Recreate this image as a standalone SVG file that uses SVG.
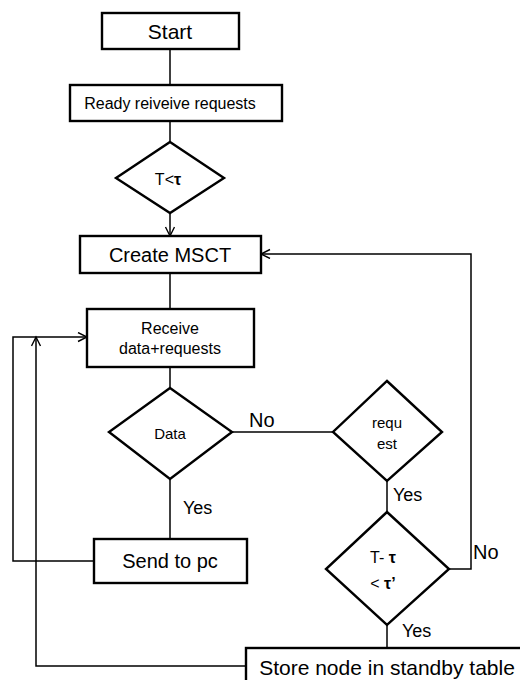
<svg xmlns="http://www.w3.org/2000/svg" width="520" height="680" viewBox="0 0 520 680">
<defs>
<marker id="arr" markerUnits="userSpaceOnUse" markerWidth="12" markerHeight="12" refX="10" refY="5" orient="auto">
<path d="M1,0.5 L10,5 L1,9.5" fill="none" stroke="#000" stroke-width="1.4"/>
</marker>
<style>
.box{fill:#fff;stroke:#000;stroke-width:2.4}
.ln{fill:none;stroke:#000;stroke-width:1.5}
text{font-family:"Liberation Sans",Arial,sans-serif;fill:#000;text-anchor:middle;dominant-baseline:central}
.lbl{text-anchor:start}
</style>
</defs>
<rect width="520" height="680" fill="#fff"/>
<g id="connectors">
<line class="ln" x1="170" y1="49" x2="170" y2="85"/>
<line class="ln" x1="170" y1="121" x2="170" y2="142"/>
<line class="ln" x1="170" y1="213" x2="170" y2="236" marker-end="url(#arr)"/>
<line class="ln" x1="170" y1="273" x2="170" y2="309"/>
<line class="ln" x1="170" y1="367" x2="170" y2="388"/>
<line class="ln" x1="232" y1="432" x2="333" y2="432"/>
<line class="ln" x1="170" y1="479" x2="170" y2="539"/>
<line class="ln" x1="387" y1="481" x2="387" y2="512"/>
<line class="ln" x1="387" y1="625" x2="387" y2="648"/>
<polyline class="ln" points="94,561 13,561 13,337 87,337" marker-end="url(#arr)"/>
<polyline class="ln" points="246,666 36,666 36,337" marker-end="url(#arr)"/>
<polyline class="ln" points="449,569 471,569 471,254 261,254" marker-end="url(#arr)"/>
<text x="249" y="420" class="lbl" font-size="20">No</text>
<text x="183" y="508" class="lbl" font-size="18">Yes</text>
<text x="393" y="495" class="lbl" font-size="18">Yes</text>
<text x="473" y="552" class="lbl" font-size="20">No</text>
<text x="402" y="631" class="lbl" font-size="18">Yes</text>
</g>
<g id="start">
<rect class="box" x="102" y="13" width="137" height="36"/>
<text x="170" y="31" font-size="21">Start</text>
</g>
<g id="ready">
<rect class="box" x="70" y="85" width="212" height="36"/>
<text x="170" y="103" font-size="16">Ready reiveive requests</text>
</g>
<g id="cond1">
<polygon class="box" points="170,142 224,178 170,213 116,178"/>
<text x="168" y="179" font-size="16">T&lt;<tspan font-weight="bold">τ</tspan></text>
</g>
<g id="create">
<rect class="box" x="80" y="236" width="181" height="37"/>
<text x="170" y="255" font-size="20">Create MSCT</text>
</g>
<g id="receive">
<rect class="box" x="87" y="309" width="167" height="58"/>
<text x="170" y="328" font-size="16">Receive</text>
<text x="170" y="348" font-size="16">data+requests</text>
</g>
<g id="data">
<polygon class="box" points="170,388 232,432 170,479 109,432"/>
<text x="170" y="433" font-size="15">Data</text>
</g>
<g id="request">
<polygon class="box" points="387,381 442,432 387,481 333,432"/>
<text x="387" y="422" font-size="15">requ</text>
<text x="387" y="443" font-size="15">est</text>
</g>
<g id="send">
<rect class="box" x="94" y="539" width="153" height="44"/>
<text x="170" y="561" font-size="20">Send to pc</text>
</g>
<g id="cond2">
<polygon class="box" points="387,512 449,569 387,625 326,569"/>
<text x="383" y="557" font-size="16">T- <tspan font-weight="bold">τ</tspan></text>
<text x="383" y="583" font-size="16">&lt; <tspan font-weight="bold">τ’</tspan></text>
</g>
<g id="store">
<rect class="box" x="246" y="648" width="290" height="45"/>
<text x="387" y="667" font-size="21">Store node in standby table</text>
</g>
</svg>
